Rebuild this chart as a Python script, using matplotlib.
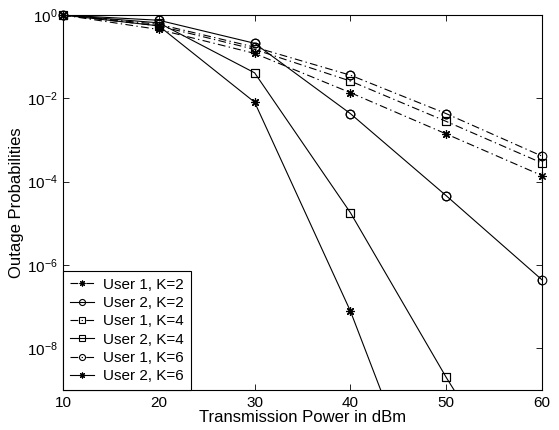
import matplotlib
matplotlib.use('Agg')
import matplotlib.pyplot as plt
import numpy as np
from matplotlib.ticker import NullLocator

# transmission power (dBm)
power = [10, 20, 30, 40, 50, 60]

# outage probabilities
u1_k2 = [1.0, 0.45, 0.12, 1.37e-2, 1.4e-3, 1.4e-4]
u2_k2 = [1.0, 0.75, 0.21, 4.3e-3, 4.6e-5, 4.4e-7]
u1_k4 = [1.0, 0.55, 0.15, 2.6e-2, 2.8e-3, 2.8e-4]
u2_k4 = [1.0, 0.65, 4.1e-2, 1.8e-5, 2.0e-9, 4.0e-13]
u1_k6 = [1.0, 0.60, 0.17, 3.6e-2, 4.3e-3, 4.1e-4]
u2_k6 = [1.0, 0.55, 8.1e-3, 7.8e-8, 8.0e-14, 1.0e-19]

labels = ['User 1, K=2', 'User 2, K=2', 'User 1, K=4',
          'User 2, K=4', 'User 1, K=6', 'User 2, K=6']
series = [u1_k2, u2_k2, u1_k4, u2_k4, u1_k6, u2_k6]

star = (8, 2, 0)
dashdot = (0, (7, 3, 1.2, 3))
# (linestyle, marker, markersize)
styles = [(dashdot, star, 6.0), ('-', 'o', 6.2), (dashdot, 's', 5.2),
          ('-', 's', 5.2), (dashdot, 'o', 6.2), ('-', star, 6.0)]

plt.rcParams['font.family'] = ['Liberation Sans', 'DejaVu Sans']

fig = plt.figure(figsize=(5.59, 4.30), dpi=100)
ax = fig.add_axes([0.1127, 0.093, 0.857, 0.872])

ymin, ymax = 1e-9, 1.0
x = np.array(power)
for y, lab, (ls, mk, ms) in zip(series, labels, styles):
    y = np.array(y)
    ax.plot(x, y, color='black', linestyle=ls, linewidth=0.8, marker=mk,
            markersize=ms, markerfacecolor='none', markeredgecolor='black',
            markeredgewidth=0.8, label=lab)
    keep = y >= ymin
    ax.plot(x[keep], y[keep], linestyle='none', marker=mk, markersize=ms,
            markerfacecolor='none', markeredgecolor='black',
            markeredgewidth=0.8, clip_on=False)

ax.set_yscale('log')
ax.set_xlim(10, 60)
ax.set_ylim(ymin, ymax)
ax.set_xticks([10, 20, 30, 40, 50, 60])
ax.set_yticks([1e-8, 1e-6, 1e-4, 1e-2, 1])
ax.yaxis.set_minor_locator(NullLocator())
ax.tick_params(direction='in', top=True, right=True, length=4, width=0.6,
               labelsize=11, pad=4)
for s in ax.spines.values():
    s.set_linewidth(0.8)

ax.set_xlabel('Transmission Power in dBm', fontsize=12, labelpad=0)
ax.set_ylabel('Outage Probabilities', fontsize=12, labelpad=2)

leg = ax.legend(loc='lower left', fontsize=11, frameon=True, fancybox=False,
                edgecolor='black', framealpha=1, borderaxespad=0,
                handlelength=1.6, handletextpad=0.6, labelspacing=0.28,
                borderpad=0.45, markerscale=0.7)
leg.get_frame().set_linewidth(0.8)

fig.savefig('out.png', dpi=100, facecolor='white')
